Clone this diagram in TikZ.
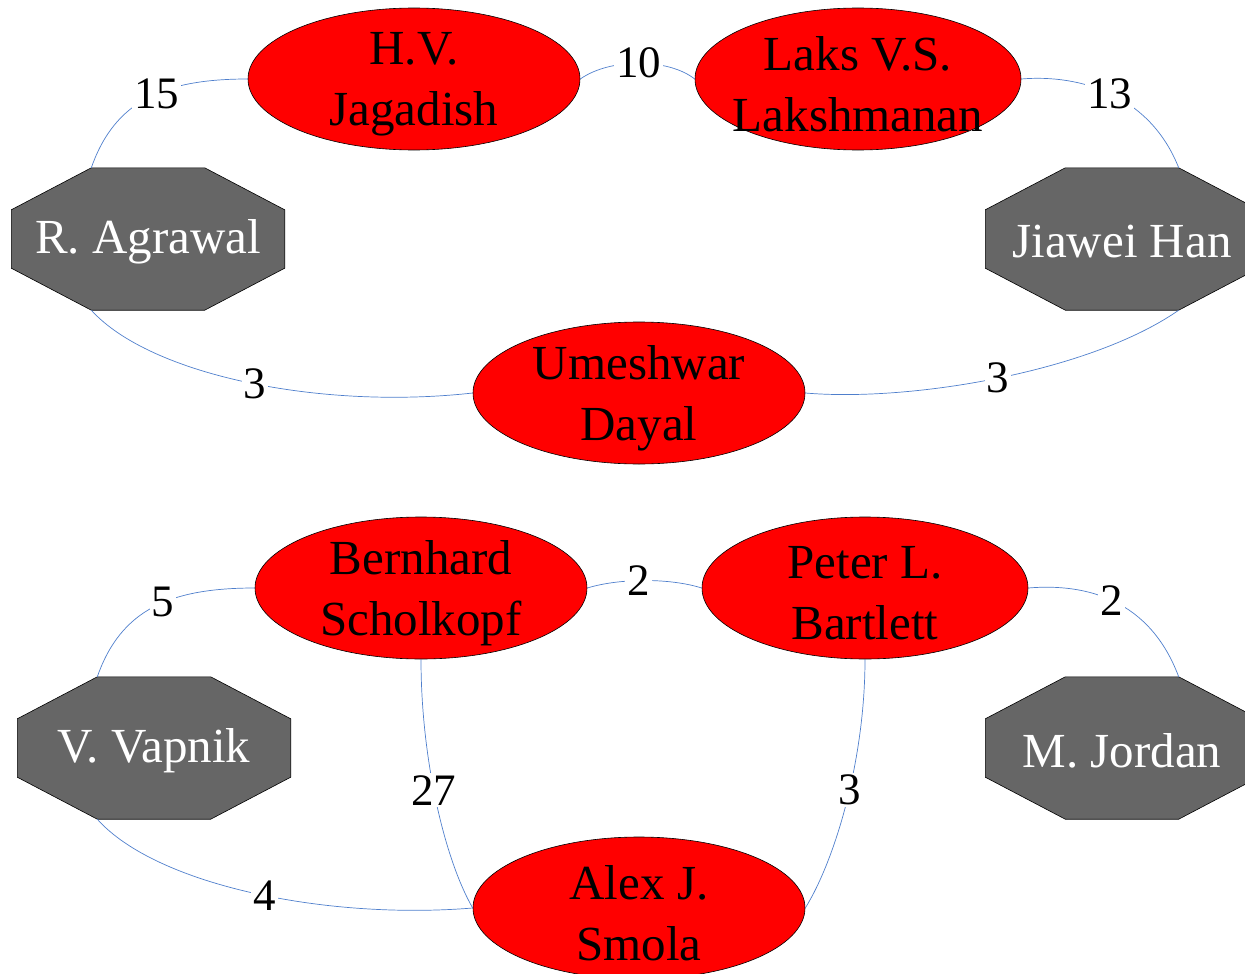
\documentclass[tikz,border=0pt]{standalone}
\usepackage{fontspec}
\setmainfont{Liberation Serif}
\usetikzlibrary{shapes.geometric}

\definecolor{hubgray}{HTML}{666666}
\definecolor{linkblue}{HTML}{4F7FCC}

\tikzset{
  person/.style={ellipse, draw=black, line width=0.6pt, fill=red,
    minimum width=332pt, minimum height=142pt, inner sep=0pt},
  % invisible frame of an octagonal hub; the octagon itself is drawn by \hubshape
  hubframe/.style={rectangle, minimum width=273pt, minimum height=142pt, inner sep=0pt},
  hubfill/.style={draw=black, line width=0.6pt, fill=hubgray},
  nametext/.style={font=\fontsize{49}{61}\selectfont, align=center, text=black, inner sep=0pt},
  hubtext/.style={nametext, text=white},
  link/.style={draw=linkblue, line width=0.7pt},
  wt/.style={fill=white, inner sep=2pt, font=\fontsize{45}{50}\selectfont},
}

% octagon with 80pt x 42pt corner cuts inside the frame of node #1
\newcommand{\hubshape}[1]{%
  \path[hubfill] ([xshift=80pt]#1.north west) -- ([xshift=-80pt]#1.north east)
    -- ([yshift=-42pt]#1.north east) -- ([yshift=42pt]#1.south east)
    -- ([xshift=-80pt]#1.south east) -- ([xshift=80pt]#1.south west)
    -- ([yshift=42pt]#1.south west) -- ([yshift=-42pt]#1.north west) -- cycle;}

\begin{document}
\begin{tikzpicture}[x=1pt, y=-1pt]
  \useasboundingbox (0,0) rectangle (1245,974);

  % --- upper group ---
  \node[person] (hv) at (414,79) {};
  \node[person, minimum width=326pt] (laks) at (858,79) {};
  \node[person] (ud) at (639,393) {};
  \node[hubframe] (ra) at (148,239) {};
  \node[hubframe] (jh) at (1122,239) {};
  \hubshape{ra}
  \hubshape{jh}
  \node[nametext] at ([yshift=-5pt]hv.center) {H.V.\\Jagadish};
  \node[nametext] at ([yshift=-5pt]laks.center) {Laks V.S.\\Lakshmanan};
  \node[nametext] at ([yshift=-5pt]ud.center) {Umeshwar\\Dayal};
  \node[hubtext] at ([yshift=-3pt]ra.center) {R. Agrawal};
  \node[hubtext] at ([yshift=-3pt]jh.center) {Jiawei Han};

  \draw[link] ([xshift=80pt]ra.north west) .. controls (115,100) and (165,79) .. (hv.west) node[wt, pos=0.56] {15};
  \draw[link] (hv.east) .. controls (610,58) and (668,58) .. (laks.west) node[wt, pos=0.5] {10};
  \draw[link] (laks.east) .. controls (1080,74) and (1150,95) .. ([xshift=-80pt]jh.north east) node[wt, pos=0.49] {13};
  \draw[link] ([xshift=80pt]ra.south west) .. controls (150,375) and (320,410) .. (ud.west) node[wt, pos=0.52] {3};
  \draw[link] (ud.east) .. controls (910,402) and (1090,372) .. ([xshift=-80pt]jh.south east) node[wt, pos=0.5] {3};

  % --- lower group ---
  \node[person] (bs) at (421,588) {};
  \node[person, minimum width=326pt] (pb) at (865,588) {};
  \node[person] (as) at (639,908) {};
  \node[hubframe] (vv) at (154,748) {};
  \node[hubframe] (mj) at (1122,748) {};
  \hubshape{vv}
  \hubshape{mj}
  \node[nametext] at ([yshift=-5pt]bs.center) {Bernhard\\Scholkopf};
  \node[nametext] at ([yshift=-5pt]pb.center) {Peter L.\\Bartlett};
  \node[nametext] at ([yshift=-5pt]as.center) {Alex J.\\Smola};
  \node[hubtext] at ([yshift=-3pt]vv.center) {V. Vapnik};
  \node[hubtext] at ([yshift=-3pt]mj.center) {M. Jordan};

  \draw[link] ([xshift=80pt]vv.north west) .. controls (121,609) and (171,588) .. (bs.west) node[wt, pos=0.56] {5};
  \draw[link] (bs.east) .. controls (620,578) and (670,578) .. (pb.west) node[wt, pos=0.45] {2};
  \draw[link] (pb.east) .. controls (1087,583) and (1150,600) .. ([xshift=-80pt]mj.north east) node[wt, pos=0.48] {2};
  \draw[link] (bs.south) .. controls (421,760) and (445,860) .. (as.west) node[wt, pos=0.45] {27};
  \draw[link] (pb.south) .. controls (865,760) and (835,860) .. (as.east) node[wt, pos=0.45] {3};
  \draw[link] ([xshift=80pt]vv.south west) .. controls (156,885) and (326,920) .. (as.west) node[wt, pos=0.53] {4};
\end{tikzpicture}
\end{document}
